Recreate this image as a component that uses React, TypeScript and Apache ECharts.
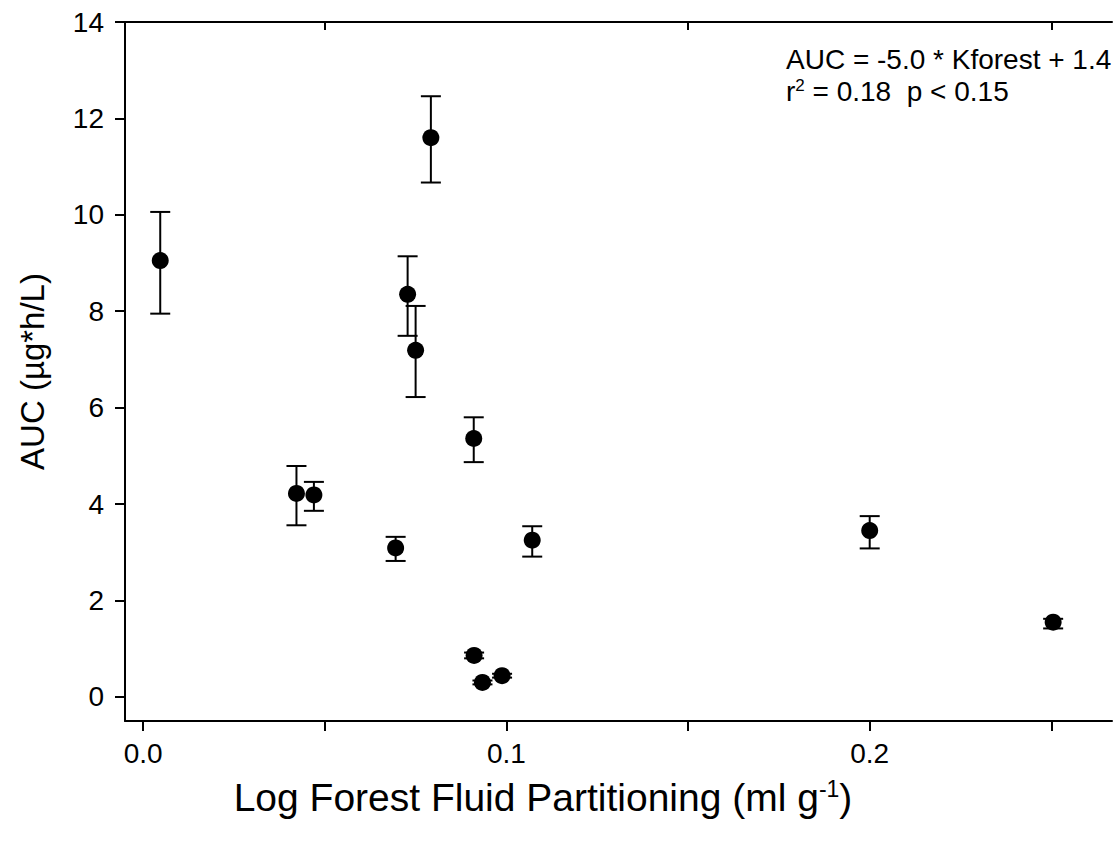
import React, { useEffect, useRef } from "react";
import * as echarts from "echarts";

const xValues = [0.0047, 0.0422, 0.047, 0.0695, 0.0728, 0.075, 0.0792, 0.091, 0.0911, 0.0934, 0.0988, 0.1071, 0.2, 0.2505];
const yValues = [9.05, 4.22, 4.19, 3.09, 8.35, 7.19, 11.6, 5.36, 0.86, 0.3, 0.44, 3.25, 3.45, 1.55];
const yUpper = [10.06, 4.79, 4.46, 3.32, 9.14, 8.11, 12.46, 5.8, 0.92, 0.34, 0.48, 3.54, 3.75, 1.62];
const yLower = [7.95, 3.56, 3.86, 2.82, 7.49, 6.22, 10.67, 4.87, 0.8, 0.26, 0.4, 2.91, 3.08, 1.42];

const xTickValues = [0, 0.05, 0.1, 0.15, 0.2, 0.25];
const xLabelValues = [0, 0.1, 0.2];
const xTopTickValues = [0.05, 0.15, 0.25];
const yTickValues = [0, 2, 4, 6, 8, 10, 12, 14];

const FONT = "Liberation Sans, Arial, sans-serif";

export default function App() {
  const ref = useRef<HTMLDivElement>(null);
  useEffect(() => {
    if (!ref.current) return;
    const chart = echarts.init(ref.current, null, { renderer: "svg" });
    const points = xValues.map((x, i) => [x, yValues[i]]);
    const errs = xValues.map((x, i) => [x, yLower[i], yUpper[i]]);
    chart.setOption({
      animation: false,
      backgroundColor: "#fff",
      textStyle: { fontFamily: FONT },
      grid: { left: 125, right: 3, top: 22, bottom: 121, containLabel: false },
      xAxis: [
        {
          type: "value",
          position: "bottom",
          min: -0.005,
          max: 0.2667,
          splitLine: { show: false },
          axisLine: { onZero: false, lineStyle: { color: "#000", width: 2 } },
          axisTick: { show: true, inside: false, length: 10, lineStyle: { color: "#000", width: 2 }, customValues: xTickValues },
          axisLabel: {
            customValues: xLabelValues,
            formatter: (v: number) => v.toFixed(1),
            color: "#000",
            fontSize: 28,
            fontFamily: FONT,
            margin: 18,
          },
        },
        {
          type: "value",
          position: "top",
          min: -0.005,
          max: 0.2667,
          splitLine: { show: false },
          axisLine: { onZero: false, lineStyle: { color: "#000", width: 2 } },
          axisTick: { show: true, inside: true, length: 8, lineStyle: { color: "#000", width: 2 }, customValues: xTopTickValues },
          axisLabel: { show: false },
        },
      ],
      yAxis: {
        type: "value",
        min: -0.5,
        max: 14,
        splitLine: { show: false },
        axisLine: { show: true, onZero: false, lineStyle: { color: "#000", width: 2 } },
        axisTick: { show: true, inside: false, length: 10, lineStyle: { color: "#000", width: 2 }, customValues: yTickValues },
        axisLabel: {
          customValues: yTickValues,
          color: "#000",
          fontSize: 28,
          fontFamily: FONT,
          margin: 21,
        },
        name: "AUC (µg*h/L)",
        nameLocation: "middle",
        nameGap: 76,
        nameTextStyle: { color: "#000", fontSize: 33, fontFamily: FONT },
      },
      graphic: [
        {
          type: "text",
          x: 543,
          y: 797,
          style: {
            text: "Log Forest Fluid Partitioning (ml g{sup|-1})",
            align: "center",
            verticalAlign: "middle",
            fontSize: 39,
            fontFamily: FONT,
            fill: "#000",
            rich: { sup: { fontSize: 23, fontFamily: FONT, fill: "#000", verticalAlign: "top", lineHeight: 16 } },
          },
        },
        {
          type: "text",
          left: 786,
          top: 45,
          style: { text: "AUC = -5.0 * Kforest + 1.4", fontSize: 28, fontFamily: FONT, fill: "#000" },
        },
        {
          type: "text",
          left: 786,
          top: 77,
          style: {
            text: "r{sup|2} = 0.18  p < 0.15",
            fontSize: 28,
            fontFamily: FONT,
            fill: "#000",
            rich: { sup: { fontSize: 17, fontFamily: FONT, fill: "#000", verticalAlign: "top", lineHeight: 12 } },
          },
        },
      ],
      series: [
        {
          type: "custom",
          data: errs,
          z: 1,
          renderItem: (params: any, api: any) => {
            const x = api.value(0);
            const lo = api.coord([x, api.value(1)]);
            const hi = api.coord([x, api.value(2)]);
            const half = 10;
            const style = { stroke: "#000", lineWidth: 2 };
            return {
              type: "group",
              children: [
                { type: "line", shape: { x1: lo[0], y1: lo[1], x2: hi[0], y2: hi[1] }, style },
                { type: "line", shape: { x1: lo[0] - half, y1: lo[1], x2: lo[0] + half, y2: lo[1] }, style },
                { type: "line", shape: { x1: hi[0] - half, y1: hi[1], x2: hi[0] + half, y2: hi[1] }, style },
              ],
            };
          },
        },
        {
          type: "scatter",
          data: points,
          z: 2,
          symbol: "circle",
          symbolSize: 17,
          itemStyle: { color: "#000", opacity: 1 },
        },
      ],
    });
    return () => chart.dispose();
  }, []);
  return <div ref={ref} style={{ position: "fixed", left: 0, top: 0, width: 1115, height: 842 }} />;
}
